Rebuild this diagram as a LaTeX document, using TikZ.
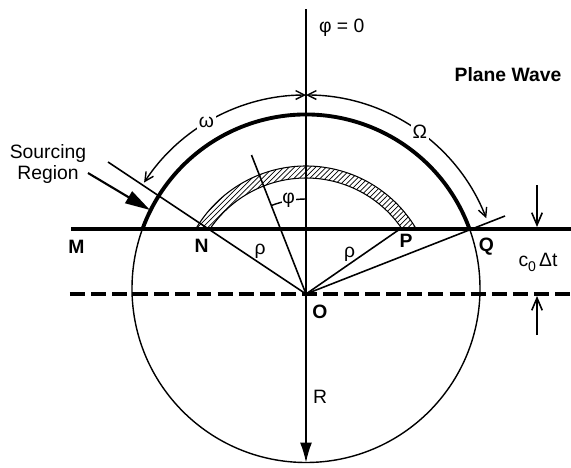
\documentclass[tikz,border=0pt]{standalone}
\usepackage{fontspec}
\setmainfont{Liberation Sans}
\usetikzlibrary{arrows.meta,patterns,calc}

\begin{document}
\begin{tikzpicture}[every node/.style={font=\fontsize{11}{12.5}\selectfont,inner sep=1pt},
  thinline/.style={line width=0.8pt},
  rayline/.style={line width=0.9pt},
  heavyline/.style={line width=2.2pt},
  ptlabel/.style={font=\fontsize{11}{12}\selectfont\bfseries},
  barbs/.style={>={Straight Barb[length=5pt,width=5pt]},<->}]
\useasboundingbox (0,0) rectangle (11.42,9.34);
% key points
\coordinate (O) at (6.12,3.46);
\coordinate (C) at (6.12,3.57);
\coordinate (N) at (4.24,4.76);
\coordinate (P) at (8.00,4.76);
\coordinate (Q) at (9.44,4.76);
\coordinate (axtop) at (6.12,9.16);
\coordinate (axbot) at (6.12,0.09);
\coordinate (nfar) at (2.16,6.10);
\coordinate (qfar) at (10.10,5.02);
\coordinate (phiend) at (5.03,6.24);
\coordinate (lineL) at (1.43,4.76);
\coordinate (lineR) at (11.42,4.76);
\coordinate (dashL) at (1.40,3.46);
\coordinate (dashR) at (11.42,3.46);
% hatched band
\draw[line width=0.6pt,pattern=north east lines] ($(O)+(30.5:2.56)$) arc[start angle=30.5,end angle=149.5,radius=2.56]
  -- ($(O)+(145.9:2.32)$) arc[start angle=145.9,end angle=34.1,radius=2.32] -- cycle;
% circle and wavefront arc
\draw[thinline] (C) circle[radius=3.48];
\draw[heavyline] ($(C)+(20:3.48)$) arc[start angle=20,end angle=160,radius=3.48];
\draw[heavyline] (lineL) -- (lineR);
\draw[heavyline,dash pattern=on 8.5pt off 3.5pt] (dashL) -- (dashR);
% axis and rays
\draw[thinline,-{Latex[length=0.4cm,width=0.24cm]}] (axtop) -- (axbot);
\draw[rayline] (O) -- (nfar);
\draw[rayline] (O) -- (P);
\draw[rayline] (O) -- (qfar);
\draw[rayline] (O) -- (phiend);
\fill (O) circle[radius=0.05];
% angle phi
\draw[thinline] ($(O)+(90:1.9)$) arc[start angle=90,end angle=111.3,radius=1.9];
\node[fill=white,inner sep=0.5pt] (phi) at ($(O)+(100.5:1.9)$) {φ};
% omega arcs
\draw[thinline,barbs] ($(C)+(146.8:3.87)$) arc[start angle=146.8,end angle=90,radius=3.87];
\draw[thinline,barbs] ($(C)+(21.3:3.87)$) arc[start angle=21.3,end angle=90,radius=3.87];
\node[fill=white] (omega) at ($(C)+(121:3.87)$) {ω};
\node[fill=white] (Omega) at ($(C)+(54:3.87)$) {Ω};
% c0 dt arrows
\coordinate (dtA) at (10.74,5.64);
\coordinate (dtB) at (10.74,4.80);
\coordinate (dtC) at (10.74,2.64);
\coordinate (dtD) at (10.74,3.42);
\draw[line width=0.9pt,-{Straight Barb[length=7pt,width=6pt]}] (dtA) -- (dtB);
\draw[line width=0.9pt,-{Straight Barb[length=7pt,width=6pt]}] (dtC) -- (dtD);
% sourcing region
\node[align=center] (src) at (0.96,6.06) {Sourcing\\Region};
\coordinate (srcA) at (1.76,5.88);
\coordinate (srcB) at (3.00,5.14);
\draw[line width=1.2pt,-{Triangle[length=0.5cm,width=0.27cm]}] (srcA) -- (srcB);
% labels
\node[anchor=west] (phizero) at (6.34,8.79) {φ = 0};
\node[font=\fontsize{11}{12}\selectfont\bfseries] (plane) at (10.16,7.84) {Plane Wave};
\node[ptlabel] (lM) at (1.53,4.41) {M};
\node[ptlabel] (lN) at (4.03,4.43) {N};
\node[ptlabel] (lP) at (8.12,4.53) {P};
\node[ptlabel] (lQ) at (9.73,4.41) {Q};
\node[ptlabel] (lO) at (6.40,3.11) {O};
\node (lR) at (6.40,1.41) {R};
\node (rho1) at (5.20,4.31) {ρ};
\node (rho2) at (6.99,4.26) {ρ};
\node (cdt) at (10.76,4.10) {c\raisebox{-0.5ex}{\footnotesize 0}\,Δt};
\end{tikzpicture}
\end{document}
